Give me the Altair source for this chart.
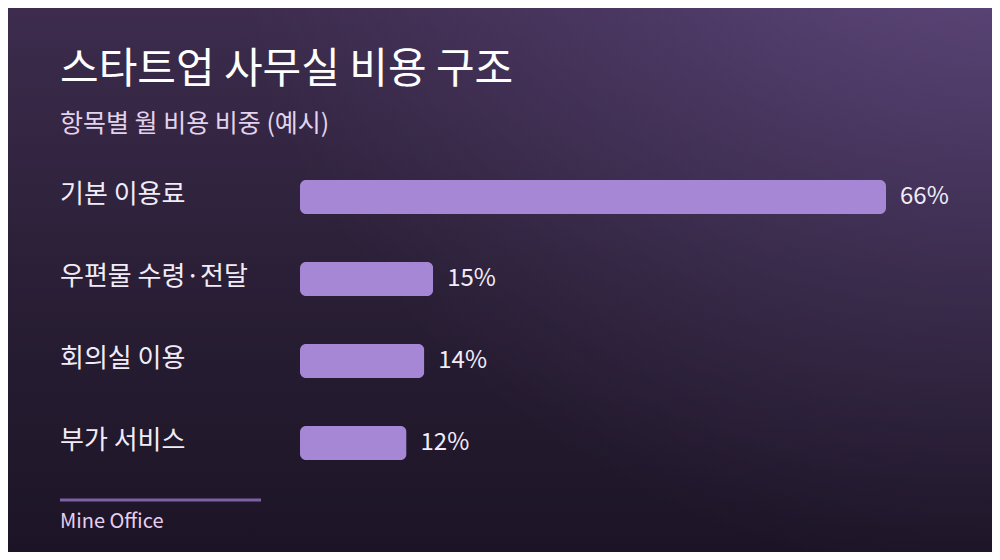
import altair as alt
import pandas as pd

categories = ["기본 이용료", "우편물 수령·전달", "회의실 이용", "부가 서비스"]
values = [66, 15, 14, 12]
value_labels = ["66%", "15%", "14%", "12%"]

title_text = "스타트업 사무실 비용 구조"
subtitle_text = "항목별 월 비용 비중 (예시)"
source_text = "Mine Office"

W, H = 984, 544
FONT = "Noto Sans CJK KR"

df = pd.DataFrame({"category": categories, "value": values, "label": value_labels})
one = pd.DataFrame({"k": [0]})

bg = alt.Chart(one).mark_rect(
    color=alt.LinearGradient(
        gradient="linear", x1=0, y1=0, x2=0, y2=1,
        stops=[alt.GradientStop(color="#3d2c4e", offset=0),
               alt.GradientStop(color="#2a1f36", offset=0.5),
               alt.GradientStop(color="#1c1426", offset=1)],
    )
).encode(x=alt.value(0), x2=alt.value(W), y=alt.value(0), y2=alt.value(H))

glow = alt.Chart(one).mark_rect(
    color=alt.RadialGradient(
        gradient="radial", x1=1, y1=0, x2=1, y2=0, r1=0, r2=0.8,
        stops=[alt.GradientStop(color="rgba(112,88,148,0.85)", offset=0),
               alt.GradientStop(color="rgba(100,76,134,0.4)", offset=0.5),
               alt.GradientStop(color="rgba(90,70,120,0)", offset=1)],
    )
).encode(x=alt.value(0), x2=alt.value(W), y=alt.value(0), y2=alt.value(H))

xs = alt.Scale(domain=[0, 66], range=[292, 878])
ys = alt.Scale(range=[148, 476], paddingInner=0.5854, paddingOuter=0.2927)

base = alt.Chart(df)
bars = base.mark_bar(color="#a687d6", cornerRadius=6).encode(
    x=alt.X("value:Q", scale=xs, axis=None),
    y=alt.Y("category:N", sort=categories, scale=ys, axis=None),
)
cat_labels = base.mark_text(
    align="left", baseline="middle", font=FONT, fontSize=26, color="#f2ecf7", dy=-2
).encode(
    x=alt.value(52),
    y=alt.Y("category:N", sort=categories, scale=ys, axis=None),
    text="category:N",
)
val_labels = base.mark_text(
    align="left", baseline="middle", font=FONT, fontSize=24, color="#f2ecf7", dx=14
).encode(
    x=alt.X("value:Q", scale=xs, axis=None),
    y=alt.Y("category:N", sort=categories, scale=ys, axis=None),
    text="label:N",
)

title = alt.Chart(one).mark_text(
    align="left", baseline="middle", font=FONT, fontSize=42, color="#ffffff", text=title_text
).encode(x=alt.value(52), y=alt.value(62))
subtitle = alt.Chart(one).mark_text(
    align="left", baseline="middle", font=FONT, fontSize=25, color="#e2d4ee", text=subtitle_text
).encode(x=alt.value(52), y=alt.value(116))
rule = alt.Chart(one).mark_rule(color="#7d61a6", strokeWidth=3).encode(
    x=alt.value(52), x2=alt.value(253), y=alt.value(492)
)
source = alt.Chart(one).mark_text(
    align="left", baseline="middle", font=FONT, fontSize=20, color="#e8cfee", text=source_text
).encode(x=alt.value(52), y=alt.value(514))

chart = alt.layer(bg, glow, bars, cat_labels, val_labels, title, subtitle, rule, source).properties(
    width=W, height=H, padding=0, autosize=alt.AutoSizeParams(type="none"),
    background="#2a1f36",
).configure_view(stroke=None)

chart.save("out.html", embed_options={"renderer": "svg", "actions": False})
